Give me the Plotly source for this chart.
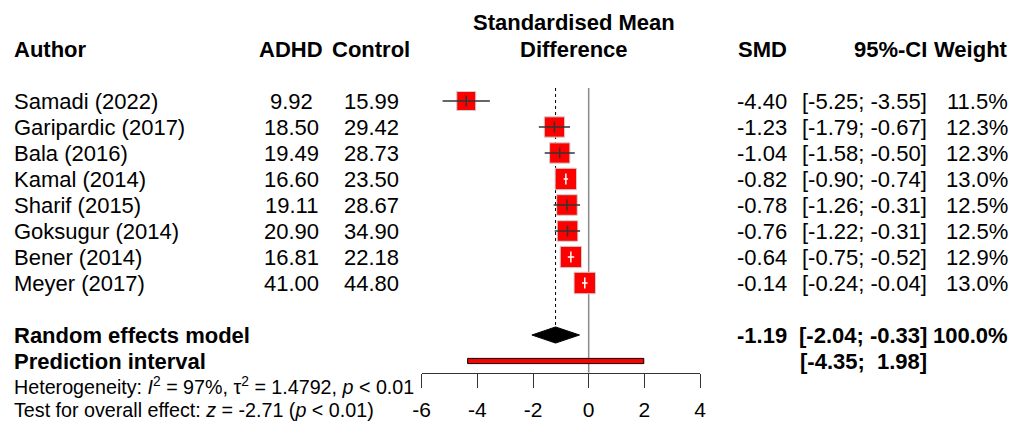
import plotly.graph_objects as go

# ---------------- data ----------------
authors = ["Samadi (2022)", "Garipardic (2017)", "Bala (2016)", "Kamal (2014)",
           "Sharif (2015)", "Goksugur (2014)", "Bener (2014)", "Meyer (2017)"]
adhd = [9.92, 18.50, 19.49, 16.60, 19.11, 20.90, 16.81, 41.00]
control = [15.99, 29.42, 28.73, 23.50, 28.67, 34.90, 22.18, 44.80]
smd = [-4.40, -1.23, -1.04, -0.82, -0.78, -0.76, -0.64, -0.14]
ci_lo = [-5.25, -1.79, -1.58, -0.90, -1.26, -1.22, -0.75, -0.24]
ci_hi = [-3.55, -0.67, -0.50, -0.74, -0.31, -0.31, -0.52, -0.04]
weight = [11.5, 12.3, 12.3, 13.0, 12.5, 12.5, 12.9, 13.0]
re_est, re_lo, re_hi, re_w = -1.19, -2.04, -0.33, 100.0
pi_lo, pi_hi = -4.35, 1.98
x_ticks = [-6, -4, -2, 0, 2, 4]
het_text = "Heterogeneity: <i>I</i><sup>2</sup> = 97%, τ<sup>2</sup> = 1.4792, <i>p</i> < 0.01"
test_text = "Test for overall effect: <i>z</i> = -2.71 (<i>p</i> < 0.01)"

# ---------------- layout constants ----------------
W, H = 1013, 421
FONT = "Liberation Sans, Arial, sans-serif"
FS = 22
FS_SMALL = 19.7
FS_TICK = 21
X0_PX, X1_PX = 421.7, 700.0          # pixel positions of -6 and 4
PX_PER_UNIT = (X1_PX - X0_PX) / (x_ticks[-1] - x_ticks[0])
AXIS_PX, TOP_PX = 372.7, 88.0
Y_RANGE = [-10.45, 0.5]
n = len(authors)
row_y = [-i for i in range(n)]
re_y = -9.0
pi_y = -10.0


def px_x(p):
    return p / W


def px_y(p):
    return 1 - p / H


fig = go.Figure()

# zero line and dotted summary line
fig.add_trace(go.Scatter(x=[0, 0], y=[Y_RANGE[1], Y_RANGE[0]], mode="lines",
                         line=dict(color="#8a8a8a", width=1.5), hoverinfo="skip"))
fig.add_trace(go.Scatter(x=[re_est, re_est], y=[Y_RANGE[1], re_y + 0.31], mode="lines",
                         line=dict(color="black", width=1, dash="dot"), hoverinfo="skip"))

# boxes
sizes = [1.65 * w for w in weight]
fig.add_trace(go.Scatter(x=smd, y=row_y, mode="markers",
                         marker=dict(symbol="square", size=sizes, color="#ff0000", opacity=1,
                                     line=dict(color="#d0d0d0", width=1)),
                         hoverinfo="skip"))

# CI lines (white when completely inside the box)
bx, by, wx, wy = [], [], [], []
tbx, tby, twx, twy = [], [], [], []
for i in range(n):
    inside = (ci_hi[i] - ci_lo[i]) * PX_PER_UNIT < sizes[i]
    if inside:
        wx += [ci_lo[i], ci_hi[i], None]
        wy += [row_y[i], row_y[i], None]
        twx.append(smd[i]); twy.append(row_y[i])
    else:
        bx += [ci_lo[i], ci_hi[i], None]
        by += [row_y[i], row_y[i], None]
        tbx.append(smd[i]); tby.append(row_y[i])
fig.add_trace(go.Scatter(x=bx, y=by, mode="lines", line=dict(color="#333333", width=1.5),
                         hoverinfo="skip"))
fig.add_trace(go.Scatter(x=wx, y=wy, mode="lines", line=dict(color="white", width=1.5),
                         hoverinfo="skip"))
fig.add_trace(go.Scatter(x=tbx, y=tby, mode="markers",
                         marker=dict(symbol="line-ns", size=8,
                                     line=dict(color="#333333", width=1.5)),
                         hoverinfo="skip"))
fig.add_trace(go.Scatter(x=twx, y=twy, mode="markers",
                         marker=dict(symbol="line-ns", size=8,
                                     line=dict(color="white", width=1.5)),
                         hoverinfo="skip"))

# diamond
dh = 0.31
fig.add_trace(go.Scatter(x=[re_lo, re_est, re_hi, re_est, re_lo],
                         y=[re_y, re_y + dh, re_y, re_y - dh, re_y],
                         mode="lines", fill="toself", fillcolor="black",
                         line=dict(color="black", width=1), hoverinfo="skip"))

# prediction interval
ph = 0.1
fig.add_trace(go.Scatter(x=[pi_lo, pi_hi, pi_hi, pi_lo, pi_lo],
                         y=[pi_y - ph, pi_y - ph, pi_y + ph, pi_y + ph, pi_y - ph],
                         mode="lines", fill="toself", fillcolor="red",
                         line=dict(color="black", width=1), hoverinfo="skip"))

ann = []


def add_text(text, xp, y, xanchor, yref="y", size=FS, bold=False):
    t = f"<b>{text}</b>" if bold else text
    ann.append(dict(text=t, x=px_x(xp), xref="paper", y=y, yref=yref,
                    xanchor=xanchor, align=xanchor, yanchor="middle", showarrow=False,
                    borderpad=0,
                    font=dict(family=FONT, size=size, color="black")))


# headers
hy = px_y(50)
add_text("Author", 13, hy, "left", "paper", bold=True)
add_text("ADHD", 291, hy, "center", "paper", bold=True)
add_text("Control", 371, hy, "center", "paper", bold=True)
add_text("Standardised Mean", 574, px_y(23), "center", "paper", bold=True)
add_text("Difference", 574, hy, "center", "paper", bold=True)
add_text("SMD", 788, hy, "right", "paper", bold=True)
add_text("95%-CI", 928, hy, "right", "paper", bold=True)
add_text("Weight", 1009, hy, "right", "paper", bold=True)


def fmt_ci(lo, hi):
    a = f"{lo:5.2f}".replace(" ", "&nbsp;")
    b = f"{hi:5.2f}".replace(" ", "&nbsp;")
    return f"[{a}; {b}]"


for i in range(n):
    y = row_y[i]
    add_text(authors[i], 13, y, "left")
    add_text(f"{adhd[i]:.2f}", 291, y, "center")
    add_text(f"{control[i]:.2f}", 371, y, "center")
    add_text(f"{smd[i]:.2f}", 788, y, "right")
    add_text(fmt_ci(ci_lo[i], ci_hi[i]), 928, y, "right")
    add_text(f"{weight[i]:.1f}%", 1009, y, "right")

add_text("Random effects model", 13, re_y, "left", bold=True)
add_text(f"{re_est:.2f}", 788, re_y, "right", bold=True)
add_text(fmt_ci(re_lo, re_hi), 928, re_y, "right", bold=True)
add_text(f"{re_w:.1f}%", 1009, re_y, "right", bold=True)
add_text("Prediction interval", 13, pi_y, "left", bold=True)
add_text(fmt_ci(pi_lo, pi_hi), 928, pi_y, "right", bold=True)

add_text(het_text, 13, px_y(386), "left", "paper", size=FS_SMALL)
add_text(test_text, 13, px_y(410), "left", "paper", size=FS_SMALL)

fig.update_layout(
    width=W, height=H,
    margin=dict(l=0, r=0, t=0, b=0, autoexpand=False),
    paper_bgcolor="white", plot_bgcolor="white",
    showlegend=False,
    annotations=ann,
    xaxis=dict(domain=[X0_PX / W, X1_PX / W], range=[x_ticks[0], x_ticks[-1]],
               showline=True, linecolor="#333333", linewidth=1,
               ticks="outside", ticklen=14, tickwidth=1, tickcolor="#333333",
               tickvals=x_ticks, ticktext=[str(t) for t in x_ticks],
               ticklabelstandoff=4,
               tickfont=dict(family=FONT, size=FS_TICK, color="black"),
               showgrid=False, zeroline=False, fixedrange=True, automargin=False),
    yaxis=dict(domain=[px_y(AXIS_PX), px_y(TOP_PX)], range=Y_RANGE,
               visible=False, fixedrange=True, automargin=False),
)

fig.write_html("out.html", config={"displayModeBar": False},
               post_script="document.body.style.margin='0';document.body.style.overflow='hidden';")
